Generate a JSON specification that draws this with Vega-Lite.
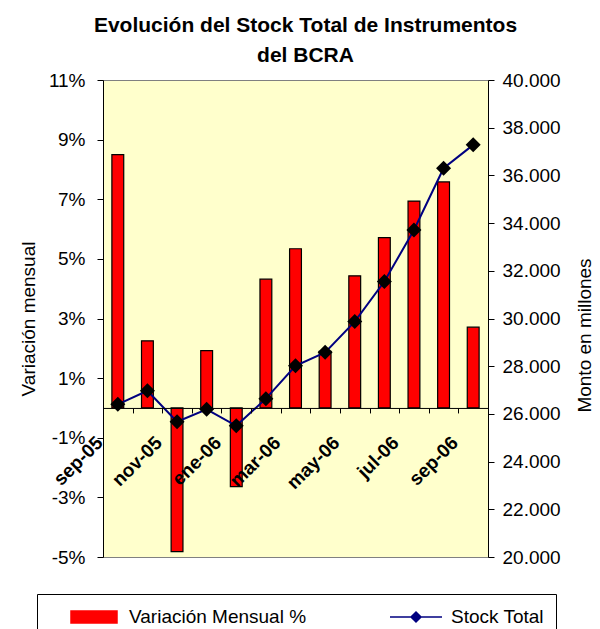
{
  "$schema": "https://vega.github.io/schema/vega-lite/v6.json",
  "autosize": "none",
  "width": 385,
  "height": 477,
  "padding": {"left": 103, "top": 80, "right": 112, "bottom": 72},
  "background": "white",
  "title": {
    "text": ["Evolución del Stock Total de Instrumentos", "del BCRA"],
    "font": "Liberation Sans",
    "fontSize": 21,
    "fontWeight": "bold",
    "color": "black",
    "lineHeight": 30,
    "anchor": "middle",
    "frame": "group",
    "dx": 10,
    "offset": 5
  },
  "data": {
    "values": [
      {"mes": "sep-05", "var": 8.5, "stock": 26400},
      {"mes": "oct-05", "var": 2.25, "stock": 26970},
      {"mes": "nov-05", "var": -4.82, "stock": 25670},
      {"mes": "dic-05", "var": 1.92, "stock": 26190},
      {"mes": "ene-06", "var": -2.64, "stock": 25500},
      {"mes": "feb-06", "var": 4.32, "stock": 26640},
      {"mes": "mar-06", "var": 5.34, "stock": 28020},
      {"mes": "abr-06", "var": 1.9, "stock": 28580},
      {"mes": "may-06", "var": 4.43, "stock": 29870},
      {"mes": "jun-06", "var": 5.71, "stock": 31550},
      {"mes": "jul-06", "var": 6.94, "stock": 33710},
      {"mes": "ago-06", "var": 7.58, "stock": 36300},
      {"mes": "sep-06", "var": 2.71, "stock": 37280}
    ]
  },
  "encoding": {
    "x": {
      "field": "mes",
      "type": "ordinal",
      "sort": null,
      "scale": {"paddingInner": 0, "paddingOuter": 0},
      "axis": {
        "title": null,
        "orient": "bottom",
        "offset": -149.06,
        "domainColor": "black",
        "domainWidth": 1,
        "tickColor": "black",
        "tickSize": 5,
        "tickBand": "extent",
        "labelAngle": -45,
        "labelFont": "Liberation Sans",
        "labelFontSize": 19,
        "labelFontWeight": "bold",
        "labelColor": "black",
        "labelPadding": 20,
        "labelOffset": -25,
        "labelOverlap": false,
        "labelBound": false,
        "labelFlush": false,
        "labelExpr": "indexof(['sep-05','nov-05','ene-06','mar-06','may-06','jul-06','sep-06'], datum.value) >= 0 ? datum.value : ''",
        "zindex": 1
      }
    }
  },
  "layer": [
    {
      "mark": {"type": "bar", "width": {"band": 0.4}, "stroke": "black", "strokeWidth": 1.2},
      "encoding": {
        "y": {
          "field": "var",
          "type": "quantitative",
          "scale": {"domain": [-5, 11], "nice": false, "zero": false},
          "axis": {
            "title": "Variación mensual",
            "values": [-5, -3, -1, 1, 3, 5, 7, 9, 11],
            "labelExpr": "datum.value + '%'",
            "labelFont": "Liberation Sans",
            "labelFontSize": 19,
            "labelColor": "black",
            "labelPadding": 12,
            "tickColor": "black",
            "tickSize": 6,
            "domainColor": "black",
            "titleFont": "Liberation Sans",
            "titleFontSize": 19,
            "titleFontWeight": "normal",
            "titleColor": "black",
            "titlePadding": 10,
            "grid": false
          }
        },
        "color": {
          "datum": "Variación Mensual %",
          "scale": {"domain": ["Variación Mensual %", "Stock Total"], "range": ["#FF0000", "#000080"]},
          "legend": {
            "title": null,
            "orient": "none",
            "legendX": -66,
            "legendY": 514,
            "direction": "horizontal",
            "strokeColor": "black",
            "fillColor": "white",
            "padding": 12,
            "labelFont": "Liberation Sans",
            "labelFontSize": 19,
            "labelColor": "black",
            "labelLimit": 400,
            "symbolSize": 400,
            "labelOffset": 24,
            "columnPadding": 64,
            "symbolOffset": 34,
            "symbolStrokeWidth": 1.5,
            "symbolType": {"expr": "datum.value === 'Stock Total' ? 'M-2.6,0H2.6M0,-0.5L0.5,0L0,0.5L-0.5,0Z' : 'M-2.3,-0.6H2.3V0.6H-2.3Z'"}
          }
        }
      }
    },
    {
      "layer": [
        {
          "mark": {"type": "line", "strokeWidth": 2},
          "encoding": {
            "y": {
              "field": "stock",
              "type": "quantitative",
              "scale": {"domain": [20000, 40000], "nice": false, "zero": false},
              "axis": {
                "orient": "right",
                "title": "Monto en millones",
                "titleAngle": 270,
                "titleY": 255,
                "values": [20000, 22000, 24000, 26000, 28000, 30000, 32000, 34000, 36000, 38000, 40000],
                "labelExpr": "format(datum.value / 1000, '.3f')",
                "labelFont": "Liberation Sans",
                "labelFontSize": 19,
                "labelColor": "black",
                "labelPadding": 8,
                "tickColor": "black",
                "tickSize": 6,
                "domainColor": "black",
                "titleFont": "Liberation Sans",
                "titleFontSize": 19,
                "titleFontWeight": "normal",
                "titleColor": "black",
                "titlePadding": 34,
                "grid": false
              }
            },
            "color": {"datum": "Stock Total"}
          }
        },
        {
          "mark": {"type": "point", "shape": "diamond", "size": 225, "filled": true, "color": "black", "opacity": 1},
          "encoding": {
            "y": {
              "field": "stock",
              "type": "quantitative",
              "scale": {"domain": [20000, 40000], "nice": false, "zero": false}
            }
          }
        }
      ]
    }
  ],
  "resolve": {"scale": {"y": "independent"}},
  "config": {
    "view": {"fill": "#FFFFCC", "stroke": "#808080", "strokeWidth": 1},
    "axis": {"grid": false}
  }
}
